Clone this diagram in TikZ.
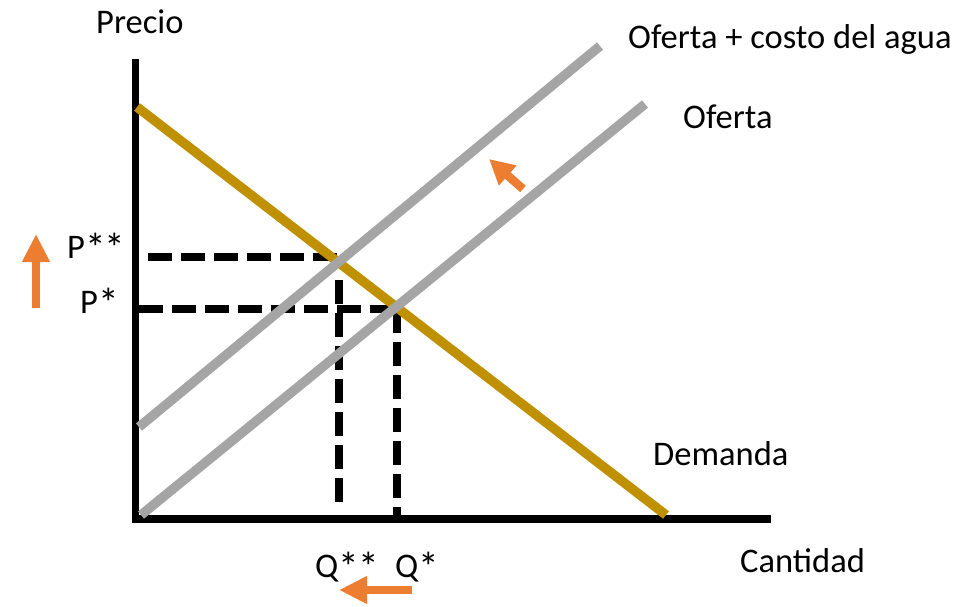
\documentclass[tikz,border=0pt]{standalone}
\usepackage{fontspec}
\setmainfont{Carlito}
\usetikzlibrary{arrows.meta}
\definecolor{gold}{HTML}{BF9000}
\definecolor{supgray}{HTML}{A5A5A5}
\definecolor{arrorange}{HTML}{ED7D31}
\newcommand{\bigstar}{\raisebox{-4.5pt}{\scalebox{1.2}{*}}\kern-1pt}
\begin{document}
\begin{tikzpicture}[x=1pt,y=-1pt,
  lbl/.style={anchor=base west,inner sep=0pt,font=\fontsize{34.5}{38}\selectfont},
  axisline/.style={line width=7.5pt,black,line join=miter},
  guide/.style={line width=7.5pt,black,dash pattern=on 24pt off 9pt},
  supply/.style={line width=9.5pt,supgray},
  demand/.style={line width=9.5pt,gold},
  shiftarrow/.style={line width=8.5pt,arrorange,-{Triangle[length=28pt,width=26pt]}}]
\useasboundingbox (0,0) rectangle (974,606);
% coordinates
\coordinate (ytop) at (135.5,59);
\coordinate (origin) at (135.5,519);
\coordinate (xend) at (770.7,519);
\coordinate (d1) at (137,107);
\coordinate (d2) at (666,515);
\coordinate (s1) at (141,515);
\coordinate (s2) at (645,104);
\coordinate (c1) at (139,427);
\coordinate (c2) at (600,46);
\coordinate (pss) at (148,257);
\coordinate (pse) at (338,257);
\coordinate (ps1) at (139,309);
\coordinate (ps2) at (397,309);
\coordinate (qss) at (339,280);
\coordinate (qse) at (339,506);
\coordinate (qs2) at (397,519);
% guides
\draw[guide] (pss) -- (pse);
\draw[guide] (ps1) -- (ps2);
\draw[guide] (qss) -- (qse);
\draw[guide] (ps2) -- (qs2);
% axes
\draw[axisline] (ytop) -- (origin) -- (xend);
% curves
\draw[demand] (d1) -- (d2);
\draw[supply] (s1) -- (s2);
\draw[supply] (c1) -- (c2);
% shift arrows
\coordinate (ua1) at (36,308);
\coordinate (ua2) at (36,234);
\coordinate (la1) at (412,590);
\coordinate (la2) at (339,590);
\coordinate (da1) at (523,189);
\coordinate (da2) at (489,159);
\draw[shiftarrow] (ua1) -- (ua2);
\draw[shiftarrow] (la1) -- (la2);
\draw[shiftarrow,-{Triangle[length=25pt,width=25pt]}] (da1) -- (da2);
% labels
\node[lbl] (precio) at (96,33) {Precio};
\node[lbl] (oc) at (628,48) {Oferta + costo del agua};
\node[lbl] (of) at (683,128) {Oferta};
\node[lbl] (dem) at (653,465) {Demanda};
\node[lbl] (cant) at (740,572) {Cantidad};
\node[lbl] (pss-l) at (67,258) {P\bigstar\bigstar};
\node[lbl] (ps-l) at (80,313) {P\bigstar};
\node[lbl] (qss-l) at (315,577) {Q\bigstar\bigstar};
\node[lbl] (qs-l) at (395,577) {Q\bigstar};
\end{tikzpicture}
\end{document}
